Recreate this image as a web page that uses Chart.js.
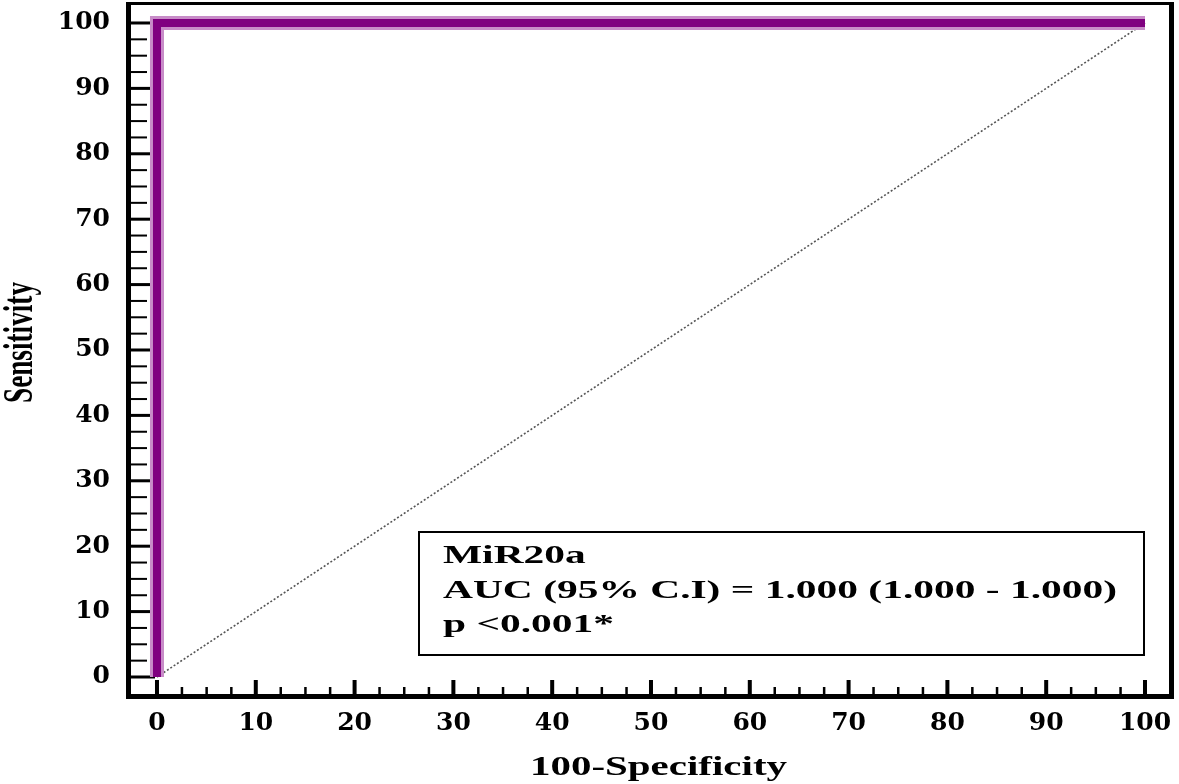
<!DOCTYPE html>
<html><head><meta charset="utf-8">
<script src="https://cdn.jsdelivr.net/npm/chart.js@4/dist/chart.umd.min.js"></script>
<style>html,body{margin:0;padding:0;background:#fff;} #wrap{width:1179px;height:784px;}</style>
</head><body><div id="wrap"><canvas id="c" width="1179" height="784"></canvas></div>
<script>
// ---- data ----
const rocX = [0, 0, 100];
const rocY = [0, 100, 100];
const refX = [0, 100];
const refY = [0, 100];
const xTickValues = [0, 10, 20, 30, 40, 50, 60, 70, 80, 90, 100];
const yTickValues = [0, 10, 20, 30, 40, 50, 60, 70, 80, 90, 100];
const minorOffsets = [2.5, 5, 7.5];
const xTitle = '100-Specificity';
const yTitle = 'Sensitivity';
const legendLines = ['MiR20a', 'AUC (95% C.I) = 1.000 (1.000 - 1.000)', 'p <0.001*'];

const tickFont = {family: 'DejaVu Serif', weight: 'bold', size: 25};

function drawScaledText(ctx, text, x, y, targetWidth, rotate) {
  const w = ctx.measureText(text).width;
  const sx = targetWidth / w;
  ctx.save();
  ctx.translate(x, y);
  if (rotate) ctx.rotate(-Math.PI / 2);
  ctx.scale(sx, 1);
  ctx.fillText(text, 0, 0);
  ctx.restore();
}

const framePlugin = {
  id: 'frame',
  beforeDatasetsDraw(chart) {
    const ctx = chart.ctx, a = chart.chartArea;
    const xs = chart.scales.x, ys = chart.scales.y;
    ctx.save();
    ctx.fillStyle = '#000';
    // frame
    ctx.fillRect(a.left - 5, 2, 5, a.bottom + 5 - 2);
    ctx.fillRect(a.left - 5, a.bottom, a.right + 5 - (a.left - 5), 5);
    ctx.fillRect(a.left - 5, 2, a.right + 5 - (a.left - 5), 3);
    ctx.fillRect(a.right, 2, 5, a.bottom + 5 - 2);
    // y ticks (inward)
    yTickValues.forEach((v, i) => {
      const py = ys.getPixelForValue(v);
      ctx.fillRect(a.left, py - 1.5, 24, 3);
      if (i < yTickValues.length - 1) {
        minorOffsets.forEach(o => {
          const my = ys.getPixelForValue(v + o);
          ctx.fillRect(a.left, my - 1, 16, 2);
        });
      }
    });
    // x ticks (inward)
    xTickValues.forEach((v, i) => {
      const px = xs.getPixelForValue(v);
      ctx.fillRect(px - 2, a.bottom - 14, 4, 14);
      if (i < xTickValues.length - 1) {
        minorOffsets.forEach(o => {
          const mx = xs.getPixelForValue(v + o);
          ctx.fillRect(mx - 1, a.bottom - 7, 2.5, 7);
        });
      }
    });
    // axis titles
    ctx.textBaseline = 'alphabetic';
    ctx.textAlign = 'left';
    ctx.font = 'bold 27px "Liberation Serif"';
    drawScaledText(ctx, xTitle, 530, 775, 257, false);
    ctx.font = 'bold 42px "Liberation Serif"';
    drawScaledText(ctx, yTitle, 32, 403, 121, true);
    ctx.restore();
  },
  afterDatasetsDraw(chart) {
    const ctx = chart.ctx;
    ctx.save();
    ctx.fillStyle = '#fff';
    ctx.fillRect(419, 532, 725, 123);
    ctx.strokeStyle = '#000';
    ctx.lineWidth = 2;
    ctx.strokeRect(419, 532, 725, 123);
    ctx.fillStyle = '#000';
    ctx.font = 'bold 26px "Liberation Serif"';
    ctx.textBaseline = 'alphabetic';
    ctx.textAlign = 'left';
    const sx = 674 / ctx.measureText(legendLines[1]).width;
    const baselines = [563, 598, 632];
    legendLines.forEach((t, i) => {
      ctx.save();
      ctx.translate(443, baselines[i]);
      ctx.scale(sx, 1);
      ctx.fillText(t, 0, 0);
      ctx.restore();
    });
    ctx.restore();
  }
};

new Chart(document.getElementById('c'), {
  type: 'line',
  data: {
    datasets: [
      {
        data: refX.map((x, i) => ({x, y: refY[i]})),
        borderColor: '#555', borderWidth: 1.6, borderDash: [2, 2],
        pointRadius: 0, tension: 0, order: 3
      },
      {
        data: rocX.map((x, i) => ({x, y: rocY[i]})),
        borderColor: '#c88cc8', borderWidth: 14, pointRadius: 0, tension: 0,
        borderJoinStyle: 'miter', borderCapStyle: 'butt', order: 2
      },
      {
        data: rocX.map((x, i) => ({x, y: rocY[i]})),
        borderColor: '#800080', borderWidth: 8, pointRadius: 0, tension: 0,
        borderJoinStyle: 'miter', borderCapStyle: 'butt', order: 1
      }
    ]
  },
  options: {
    responsive: false,
    devicePixelRatio: 1,
    animation: false,
    layout: {padding: {top: 5, right: 10, left: 0, bottom: 0}},
    plugins: {legend: {display: false}, tooltip: {enabled: false}},
    scales: {
      x: {
        type: 'linear', min: -2.63, max: 102.43,
        afterBuildTicks: s => { s.ticks = xTickValues.map(v => ({value: v})); },
        afterFit: s => { s.height = 90; s.paddingLeft = 0; s.paddingRight = 0; },
        ticks: {font: tickFont, color: '#000', padding: 14, maxRotation: 0, autoSkip: false},
        grid: {display: false, drawTicks: false},
        border: {display: false},
        title: {display: false}
      },
      y: {
        type: 'linear', min: -2.6, max: 102.75,
        afterBuildTicks: s => { s.ticks = yTickValues.map(v => ({value: v})); },
        afterFit: s => { s.width = 131; s.paddingTop = 0; s.paddingBottom = 0; },
        ticks: {font: tickFont, color: '#000', padding: 21, autoSkip: false},
        grid: {display: false, drawTicks: false},
        border: {display: false},
        title: {display: false}
      }
    }
  },
  plugins: [framePlugin]
});
</script>
</body></html>
